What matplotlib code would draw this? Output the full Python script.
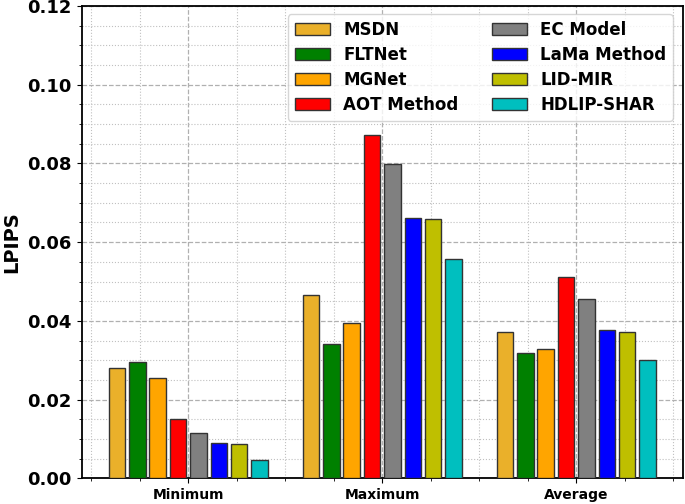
import numpy as np
import matplotlib
matplotlib.use("Agg")
import matplotlib.pyplot as plt
from matplotlib.ticker import AutoMinorLocator, MultipleLocator

groups = ["Minimum", "Maximum", "Average"]
methods = ["MSDN", "FLTNet", "MGNet", "AOT Method",
           "EC Model", "LaMa Method", "LID-MIR", "HDLIP-SHAR"]
colors = ["#EAB02A", "green", "orange", "red",
          "gray", "blue", "#BFBF00", "#00BFBF"]

# LPIPS values per method: [Minimum, Maximum, Average]
values = {
    "MSDN":        [0.0279, 0.0467, 0.0372],
    "FLTNet":      [0.0296, 0.0342, 0.0318],
    "MGNet":       [0.0256, 0.0395, 0.0328],
    "AOT Method":  [0.0151, 0.0872, 0.0511],
    "EC Model":    [0.0116, 0.0798, 0.0456],
    "LaMa Method": [0.0090, 0.0661, 0.0376],
    "LID-MIR":     [0.0087, 0.0658, 0.0372],
    "HDLIP-SHAR":  [0.0047, 0.0558, 0.0301],
}

x = np.arange(len(groups))
step = 0.105
width = 0.085

fig = plt.figure(figsize=(6.85, 5.04), dpi=100)
ax = fig.add_axes([0.119, 0.051, 0.878, 0.937])

for i, m in enumerate(methods):
    off = (i - (len(methods) - 1) / 2) * step
    ax.bar(x + off, values[m], width, color=colors[i], edgecolor="#333333",
           linewidth=1, label=m, zorder=3)

ax.set_xlim(-0.55, 2.55)
ax.set_xticks(x)
ax.set_xticklabels(groups, fontsize=10, fontweight="bold")
ax.xaxis.set_minor_locator(MultipleLocator(0.25))
yt = np.arange(0, 0.121, 0.02)
ax.set_yticks(yt)
ax.set_yticklabels(["%.2f" % v for v in yt], fontsize=13, fontweight="bold")
ax.yaxis.set_minor_locator(AutoMinorLocator(4))
ax.set_ylim(0, 0.12)
ax.set_ylabel("LPIPS", fontsize=14, fontweight="bold", labelpad=4)

ax.grid(which="major", linestyle="--", color="#b0b0b0", linewidth=0.9, zorder=0)
ax.grid(which="minor", linestyle=":", color="#c0c0c0", linewidth=0.8, zorder=0)
ax.set_axisbelow(True)
for s in ax.spines.values():
    s.set_linewidth(1.3)

ax.legend(ncol=2, loc="upper right", prop={"weight": "bold", "size": 12},
          handlelength=2.1, handleheight=0.7, handletextpad=0.8,
          labelspacing=0.42, columnspacing=2.0,
          bbox_to_anchor=(0.997, 1.0))

fig.savefig("out.png", dpi=100)
